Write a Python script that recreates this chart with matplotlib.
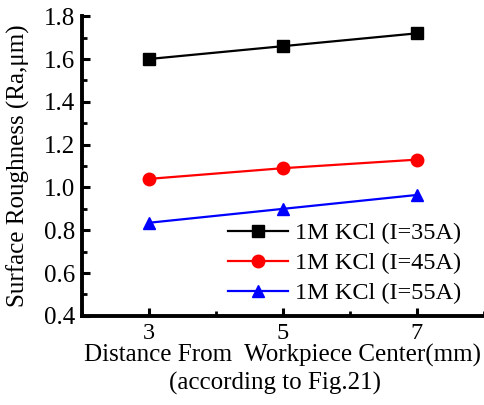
import matplotlib
matplotlib.use("Agg")
import matplotlib.pyplot as plt
from matplotlib.ticker import MultipleLocator, FormatStrFormatter

plt.rcParams['font.family'] = ['Liberation Serif', 'DejaVu Serif']

x = [3, 5, 7]
s35 = [1.60, 1.66, 1.72]
s45 = [1.04, 1.09, 1.13]
s55 = [0.835, 0.90, 0.965]
labels = ['1M KCl (I=35A)', '1M KCl (I=45A)', '1M KCl (I=55A)']

fig = plt.figure(figsize=(4.84, 4.05), dpi=100)
ax = fig.add_axes([0.169, 0.22, 0.831, 0.74])

ax.plot(x, s35, color='black', marker='s', markersize=8, lw=1.6, label=labels[0])
ax.plot(x, s45, color='red', marker='o', markersize=9, lw=1.6, label=labels[1])
ax.plot(x, s55, color='blue', marker='^', markersize=9, lw=1.6, label=labels[2])

ax.set_xlim(2, 8)
ax.set_ylim(0.4, 1.8)
ax.set_xticks([3, 5, 7])
ax.xaxis.set_minor_locator(MultipleLocator(1))
ax.yaxis.set_major_locator(MultipleLocator(0.2))
ax.yaxis.set_minor_locator(MultipleLocator(0.1))
ax.yaxis.set_major_formatter(FormatStrFormatter('%.1f'))

for s in ['top', 'right']:
    ax.spines[s].set_visible(False)
for s in ['left', 'bottom']:
    ax.spines[s].set_linewidth(2.8)

ax.tick_params(which='major', direction='in', length=5.5, width=2.2)
ax.tick_params(which='minor', direction='in', length=3.5, width=2)
ax.tick_params(axis='y', which='major', labelsize=18, pad=5)
ax.tick_params(axis='x', which='major', labelsize=17.5, pad=5)

ax.set_ylabel('Surface Roughness (Ra,μm)', fontsize=18)
ax.yaxis.set_label_coords(-0.13, 0.5)
ax.set_xlabel('Distance From  Workpiece Center(mm)', fontsize=18)
ax.xaxis.label.set_va('baseline')
ax.xaxis.set_label_coords(0.5, -0.153)
ax.text(0.481, -0.247, '(according to Fig.21)', transform=ax.transAxes,
        ha='center', va='baseline', fontsize=18)

ax.legend(loc='upper left', bbox_to_anchor=(0.363, 0.313), frameon=False, fontsize=17.5,
          handlelength=2.47, handletextpad=0.29, labelspacing=0.33, borderaxespad=0,
          borderpad=0)

fig.savefig('out.png', dpi=100)
